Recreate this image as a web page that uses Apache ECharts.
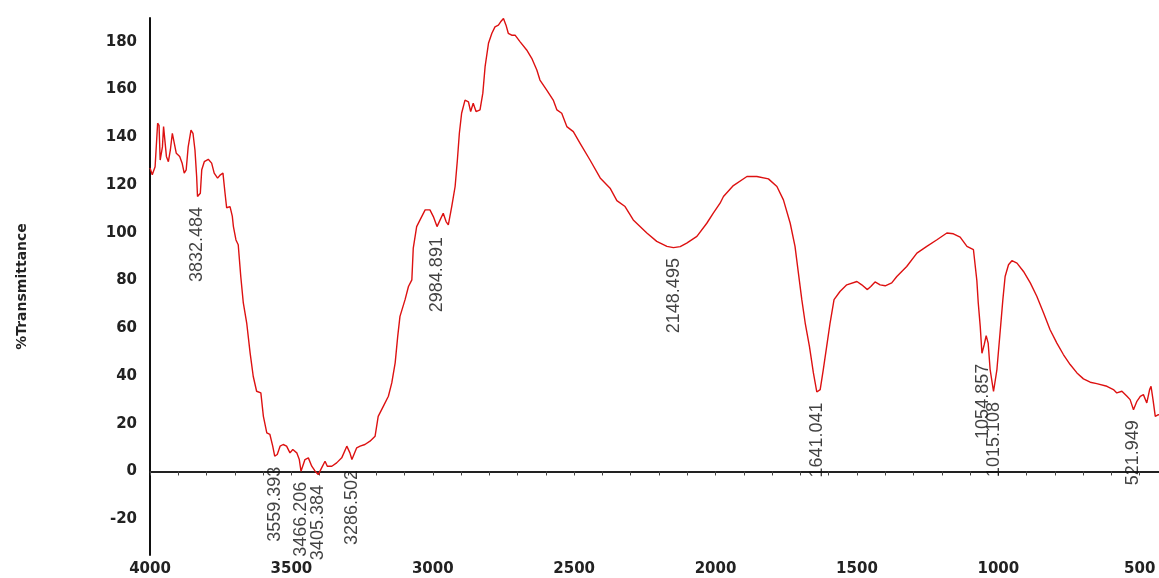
<!DOCTYPE html>
<html>
<head>
<meta charset="utf-8">
<script src="https://cdn.jsdelivr.net/npm/echarts@6/dist/echarts.min.js"></script>
<style>
  html, body { margin: 0; padding: 0; background: #fff; }
  #chart { width: 1159px; height: 578px; }
</style>
</head>
<body>
<div id="chart"></div>
<script>
// Wavenumbers (cm-1)
const wavenumbers = [
  4000, 3992, 3982, 3973, 3968, 3964, 3956, 3952, 3947, 3942, 3935, 3928, 3921, 3914, 3907, 3900,
  3895, 3886, 3879, 3872, 3865, 3855, 3848, 3841, 3835, 3832, 3822, 3817, 3808, 3794, 3782, 3773,
  3761, 3751, 3742, 3735, 3729, 3717, 3709, 3705, 3696, 3688, 3679, 3670, 3658, 3646, 3635, 3623,
  3608, 3599, 3587, 3576, 3566, 3559, 3550, 3540, 3529, 3517, 3505, 3495, 3481, 3472, 3466, 3452,
  3440, 3428, 3416, 3405, 3393, 3381, 3373, 3357, 3340, 3322, 3304, 3293, 3286, 3269, 3257, 3240,
  3222, 3204, 3193, 3175, 3157, 3145, 3133, 3124, 3116, 3098, 3086, 3074, 3069, 3057, 3045, 3027,
  3010, 2998, 2985, 2974, 2963, 2953, 2945, 2933, 2921, 2913, 2906, 2898, 2886, 2874, 2866, 2857,
  2847, 2833, 2823, 2815, 2803, 2791, 2780, 2768, 2760, 2750, 2741, 2733, 2721, 2709, 2691, 2668,
  2650, 2632, 2621, 2597, 2574, 2561, 2544, 2526, 2503, 2479, 2444, 2408, 2373, 2349, 2320, 2291,
  2243, 2208, 2172, 2149, 2125, 2102, 2066, 2031, 2008, 1984, 1972, 1937, 1889, 1854, 1813, 1783,
  1760, 1736, 1719, 1707, 1695, 1683, 1668, 1654, 1642, 1630, 1619, 1607, 1595, 1581, 1560, 1536,
  1500, 1483, 1463, 1451, 1436, 1418, 1400, 1377, 1359, 1324, 1288, 1253, 1217, 1182, 1159, 1135,
  1111, 1088, 1076, 1071, 1064, 1058, 1050, 1043, 1036, 1029, 1017, 1005, 993, 984, 976, 964,
  952, 934, 911, 887, 864, 840, 817, 793, 770, 746, 722, 699, 675, 652, 616, 593,
  581, 563, 545, 534, 522, 510, 498, 487, 475, 465, 460, 453, 445, 434, 400
];

// %Transmittance at each wavenumber
const transmittance = [
  127.2, 124.3, 127.7, 145.9, 145, 130.5, 136, 144.5, 144, 132, 129.8, 134.7, 141.7, 141, 133.3, 134,
  132, 129, 125, 126.4, 136, 143, 141.7, 134.7, 123.5, 115.2, 116.6, 126.4, 129.8, 130.8, 129.2, 125,
  122.9, 124.3, 125, 117, 110.5, 111, 107, 102.6, 97, 95, 81.7, 70.6, 62.2, 49.7, 39.9, 33.6,
  32.9, 23.1, 16.2, 15.5, 10.6, 6.4, 7.1, 10.6, 11.3, 10.6, 7.8, 9.2, 7.8, 5.0, 0.1, 5,
  5.7, 2.2, 0.1, -1.3, 1.5, 4.3, 2.2, 2.2, 3.6, 5.7, 10.6, 7.8, 5, 9.9, 10.6, 11.3,
  12.7, 14.8, 23.1, 27.3, 31.5, 37.1, 45.5, 56.6, 65, 72, 77.5, 80.3, 93.6, 102.6, 105.4, 109.6,
  109.6, 106.8, 102.6, 105.4, 108.2, 104.7, 103.3, 111, 119.4, 130.5, 141.7, 150.1, 155.6, 154.9, 150.8, 154.3,
  150.8, 151.5, 158.5, 169.6, 179.4, 183.6, 186.3, 187, 188.4, 189.8, 187, 183.6, 182.8, 182.8, 180, 176.6,
  173.1, 168.2, 164, 159.8, 155.6, 151.5, 150.1, 144.5, 142.4, 137.5, 130.5, 123, 118.7, 113.5, 111, 105.4,
  99.9, 96.4, 94.3, 93.8, 94.2, 95.7, 98.5, 104, 108.2, 112.4, 115.2, 119.8, 123.6, 123.6, 122.6, 119.4,
  113.8, 104, 94.3, 83.1, 72, 62.2, 52.4, 41.3, 33.3, 34.3, 42.7, 52.4, 62.2, 72, 75.4, 78.2,
  79.6, 78.2, 76.2, 77.5, 79.4, 78.2, 77.8, 79, 81.7, 85.9, 91.5, 94.3, 97.1, 99.9, 99.6, 98.2,
  94.3, 92.9, 80, 70.6, 60.8, 49.5, 53.1, 56.9, 53.8, 42.7, 33.5, 42.7, 59.4, 72, 81.7, 86.6,
  88.3, 87.3, 83.8, 79, 73.4, 66.4, 59.4, 53.8, 49, 44.8, 41.3, 38.8, 37.4, 36.8, 35.7, 34.3,
  32.9, 33.6, 31.5, 30.1, 25.9, 29.4, 31.5, 32.2, 28.7, 34.3, 35.7, 30.1, 23.1, 23.8, 22.5
];

// Peak annotations
const peakLabels = ['3832.484', '3559.393', '3466.206', '3405.384', '3286.502', '2984.891',
  '2148.495', '1641.041', '1054.857', '1015.108', '521.949'];
const peakValues = [115.2, 6.4, 0.1, -1.3, 5, 102.6, 93.8, 33.3, 49.5, 33.5, 25.9];

const chart = echarts.init(document.getElementById('chart'), null, { renderer: 'canvas' });

const lineData = wavenumbers.map((w, i) => [w, transmittance[i]]);
const peakData = peakLabels.map((l, i) => ({ value: [parseFloat(l), peakValues[i]], name: l }));

const option = {
  backgroundColor: '#fff',
  animation: false,
  // axis runs off the right edge, like the original
  grid: { left: 150, right: -9, top: 18, bottom: 23, outerBoundsMode: 'none' },
  xAxis: {
    type: 'value',
    inverse: true,
    min: 400,
    max: 4000,
    interval: 100,
    axisLine: { lineStyle: { color: '#222', width: 2 } },
    axisTick: { show: true, length: 4, lineStyle: { color: '#444' } },
    splitLine: { show: false },
    axisLabel: {
      margin: 7,
      color: '#222',
      fontFamily: 'DejaVu Sans',
      fontWeight: 'bold',
      fontSize: 15,
      formatter: v => (v % 500 === 0 ? String(v) : '')
    }
  },
  yAxis: {
    type: 'value',
    min: -35,
    max: 190,
    interval: 5,
    name: '%Transmittance',
    nameLocation: 'middle',
    nameGap: 121,
    nameTextStyle: { color: '#222', fontFamily: 'DejaVu Sans', fontWeight: 'bold', fontSize: 14 },
    axisLine: { show: true, lineStyle: { color: '#111', width: 2 } },
    axisTick: { show: false },
    splitLine: { show: false },
    axisLabel: {
      margin: 13,
      color: '#222',
      fontFamily: 'DejaVu Sans',
      fontWeight: 'bold',
      fontSize: 15,
      formatter: v => (v % 20 === 0 ? String(v) : '')
    }
  },
  series: [
    {
      type: 'line',
      data: lineData,
      showSymbol: false,
      lineStyle: { color: '#dd1111', width: 1.4 },
      z: 2
    },
    {
      type: 'scatter',
      data: peakData,
      symbolSize: 1,
      itemStyle: { color: 'rgba(0,0,0,0)' },
      label: {
        show: true,
        formatter: p => p.name,
        position: 'bottom',
        distance: 10,
        rotate: 90,
        align: 'right',
        verticalAlign: 'middle',
        color: '#111',
        fontFamily: 'Liberation Sans',
        fontSize: 18
      },
      z: 3
    }
  ]
};

chart.setOption(option);
</script>
</body>
</html>
